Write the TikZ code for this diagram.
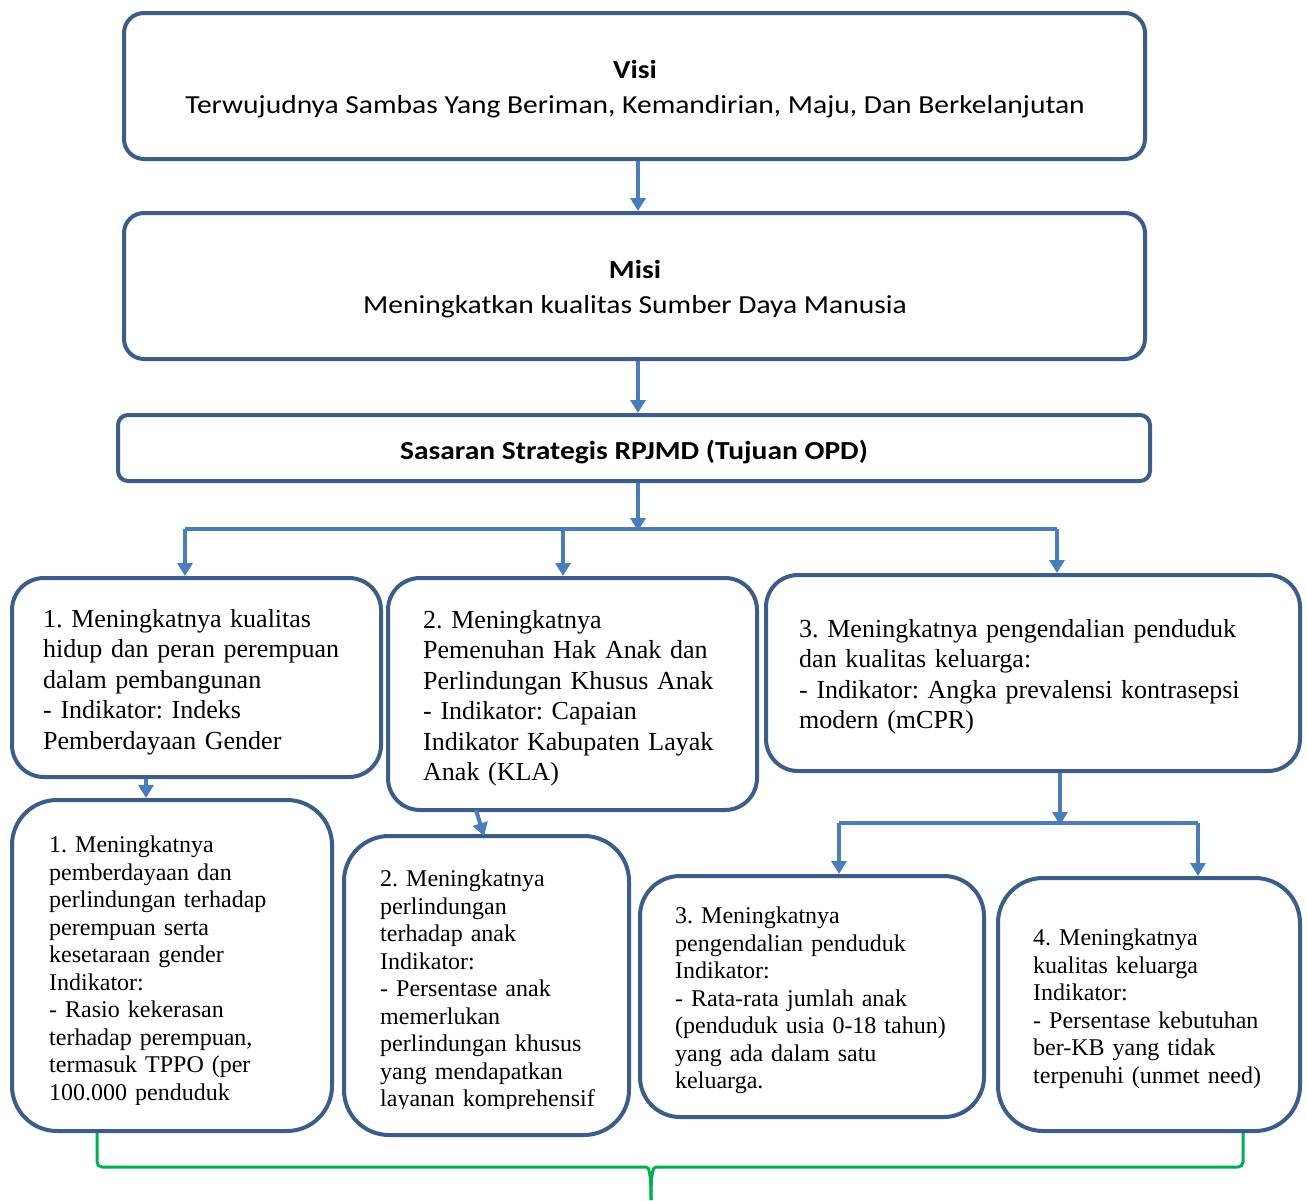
\documentclass[tikz,border=0pt]{standalone}
\usepackage{fontspec}
\setmainfont{Liberation Serif}
\newfontfamily\calib[FakeStretch=1.135]{Carlito}
\usetikzlibrary{arrows.meta,calc}
\definecolor{boxc}{HTML}{3B5D8A}
\definecolor{arrc}{HTML}{4A7EBB}
\definecolor{grn}{HTML}{00B050}
\tikzset{
  box/.style={draw=boxc, line width=4pt, rounded corners=#1, inner sep=0pt, fill=white},
  box/.default=20pt,
  arr/.style={draw=arrc, line width=4pt, -{Triangle[width=15pt,length=13pt]}},
  ln/.style={draw=arrc, line width=4pt},
  brace/.style={draw=grn, line width=3pt},
  midtxt/.style={anchor=north west, inner sep=0pt, align=left, text width=360pt, font=\frenchspacing\fontsize{26}{30.5}\selectfont},
  bottxt/.style={anchor=north west, inner sep=0pt, align=left, text width=300pt, font=\frenchspacing\fontsize{24}{27.5}\selectfont},
  ttl/.style={font=\calib\fontsize{26}{35}\selectfont, align=center, inner sep=0pt}
}
\begin{document}
\begin{tikzpicture}[x=1pt,y=-1pt]
\useasboundingbox (0,0) rectangle (1307,1200);

% top boxes
\node[box=20pt, minimum width=1021pt, minimum height=146pt] (visi) at (634.5,86) {};
\node[ttl] (visit) at (635,89)
  {\textbf{Visi}\\Terwujudnya Sambas Yang Beriman, Kemandirian, Maju, Dan Berkelanjutan};
\node[box=20pt, minimum width=1021pt, minimum height=146pt] (misi) at (634.5,286) {};
\node[ttl] (misit) at (635,289)
  {\textbf{Misi}\\Meningkatkan kualitas Sumber Daya Manusia};
\node[box=10pt, minimum width=1032pt, minimum height=66pt] (sas) at (634,448) {};
\node[ttl] (sast) at (634,452) {\textbf{Sasaran Strategis RPJMD (Tujuan OPD)}};

% middle row
\node[box=32pt, minimum width=369pt, minimum height=199pt] (m1) at (196.5,677.5) {};
\node[box=32pt, minimum width=369pt, minimum height=232pt] (m2) at (572.5,694) {};
\node[box=32pt, minimum width=534pt, minimum height=196pt] (m3) at (1033,673) {};

\node[midtxt] (t1) at (43,609) {1. Meningkatnya kualitas\\hidup dan peran perempuan\\dalam pembangunan\\- Indikator: Indeks\\Pemberdayaan Gender};
\node[midtxt] (t2) at (423,610) {2. Meningkatnya\\Pemenuhan Hak Anak dan\\Perlindungan Khusus Anak\\- Indikator: Capaian\\Indikator Kabupaten Layak\\Anak (KLA)};
\node[midtxt, text width=480pt] (t3) at (799,619) {3. Meningkatnya pengendalian penduduk\\dan kualitas keluarga:\\- Indikator: Angka prevalensi kontrasepsi\\modern (mCPR)};

% bottom row
\node[box=45pt, minimum width=320pt, minimum height=331pt] (b1) at (172,965.5) {};
\node[box=45pt, minimum width=285pt, minimum height=299pt] (b2) at (486.5,985.5) {};
\node[box=40pt, minimum width=344pt, minimum height=241pt] (b3) at (812,996.5) {};
\node[box=45pt, minimum width=302pt, minimum height=253pt] (b4) at (1149,1004.5) {};

\begin{scope}
\clip (0,800) rectangle (340,1104);
\node[bottxt] (u1) at (49,836) {1. Meningkatnya\\pemberdayaan dan\\perlindungan terhadap\\perempuan serta\\kesetaraan gender\\Indikator:\\- Rasio kekerasan\\terhadap perempuan,\\termasuk TPPO (per\\100.000 penduduk};
\end{scope}
\begin{scope}
\clip (340,836) rectangle (640,1108);
\node[bottxt] (u2) at (380,870) {2. Meningkatnya\\perlindungan\\terhadap anak\\Indikator:\\- Persentase anak\\memerlukan\\perlindungan khusus\\yang mendapatkan\\layanan komprehensif};
\end{scope}
\node[bottxt] (u3) at (675,907) {3. Meningkatnya\\pengendalian penduduk\\Indikator:\\- Rata-rata jumlah anak\\(penduduk usia 0-18 tahun)\\yang ada dalam satu\\keluarga.};
\node[bottxt] (u4) at (1033,929) {4. Meningkatnya\\kualitas keluarga\\Indikator:\\- Persentase kebutuhan\\ber-KB yang tidak\\terpenuhi (unmet need)};

% connectors
\coordinate (xv) at (638,0);
\draw[arr] (visi.south -| xv) -- (misi.north -| xv);
\draw[arr] (misi.south -| xv) -- (sas.north -| xv);
\coordinate (jr) at (638,531);
\draw[arr] (sas.south -| xv) -- (jr);
\coordinate (hl) at (185,529);
\coordinate (hm) at (563,529);
\coordinate (hr) at (1057,529);
\draw[ln] (hl) -- (hr);
\draw[arr] (hl) -- (m1.north -| hl);
\draw[arr] (hm) -- (m2.north -| hm);
\draw[arr] (hr) -- (m3.north -| hr);

\coordinate (a1) at (146,0);
\draw[arr] (m1.south -| a1) -- (b1.north -| a1);
\coordinate (a2s) at (476,810);
\coordinate (a2e) at (484,836);
\draw[arr] (a2s) -- (a2e);

\coordinate (a3) at (1060,0);
\coordinate (j3) at (1060,825);
\draw[arr] (m3.south -| a3) -- (j3);
\coordinate (j3l) at (839,823);
\coordinate (j3r) at (1198,823);
\draw[ln] (j3l) -- (j3r);
\draw[arr] (j3l) -- (b3.north -| j3l);
\draw[arr] (j3r) -- (b4.north -| j3r);

% green brace
\coordinate (gL) at (97,0);
\coordinate (gR) at (1243,0);
\coordinate (gm) at (651,1200);
\draw[brace] (b1.south -| gL) [rounded corners=5pt] |- (641,1167) [sharp corners] .. controls (649,1167) and (651,1172) .. (gm);
\draw[brace] (b4.south -| gR) [rounded corners=5pt] |- (661,1167) [sharp corners] .. controls (653,1167) and (651,1172) .. (gm);
\end{tikzpicture}
\end{document}
